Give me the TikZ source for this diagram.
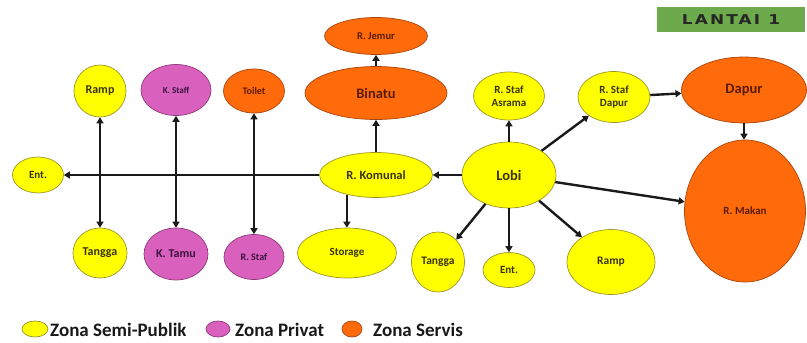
\documentclass[tikz,border=0pt]{standalone}
\usepackage{fontspec}
\setmainfont{Carlito}
\newfontfamily\titlefont[FakeStretch=1.25,LetterSpace=16]{DejaVu Sans Bold}
\usetikzlibrary{shapes.geometric,arrows.meta}

\definecolor{zyellow}{HTML}{FFFF00}
\definecolor{zyellowline}{HTML}{9C9628}
\definecolor{zpink}{HTML}{DA60BE}
\definecolor{zpinkline}{HTML}{8E3A7C}
\definecolor{zorange}{HTML}{FF6A0A}
\definecolor{zorangeline}{HTML}{A8460C}
\definecolor{ytext}{HTML}{3A3208}
\definecolor{ptext}{HTML}{3A1240}
\definecolor{otext}{HTML}{5A1C00}
\definecolor{titlegreen}{HTML}{6DAA4C}
\definecolor{edge}{HTML}{1A1A1A}

\tikzset{
  room/.style={ellipse, draw, line width=0.7pt, inner sep=0pt, align=center,
    font=\bfseries},
  semi/.style={room, fill=zyellow, draw=zyellowline, text=ytext},
  privat/.style={room, fill=zpink, draw=zpinkline, text=ptext},
  servis/.style={room, fill=zorange, draw=zorangeline, text=otext},
  sz/.style 2 args={minimum width=#1pt, minimum height=#2pt},
  arr/.style={draw=edge, line width=2.4pt,
    -{Triangle[length=6pt,width=7pt]}},
  arrboth/.style={draw=edge, line width=2.4pt,
    {Triangle[length=6pt,width=7pt]}-{Triangle[length=6pt,width=7pt]}},
  legdot/.style={ellipse, inner sep=0pt, line width=0.7pt},
  legtxt/.style={anchor=west, inner sep=0pt, font=\fontsize{19}{22}\selectfont\bfseries, text=black!90},
}

\begin{document}
\begin{tikzpicture}[x=1pt,y=1pt]
\useasboundingbox (0,0) rectangle (807,-343);

% floor label
\node[fill=titlegreen, minimum width=148pt, minimum height=25pt, inner sep=0pt,
  font=\titlefont\fontsize{13.5}{15}\selectfont, text=black!85] (title) at (731,-19.5) {LANTAI 1};

% rooms: service zone
\node[servis, sz={103}{37}, font=\fontsize{10.5}{12}\selectfont\bfseries] (RJemur) at (376,-36) {R. Jemur};
\node[servis, sz={142}{53}, font=\fontsize{14.5}{16}\selectfont\bfseries] (Binatu) at (376,-93) {Binatu};
\node[servis, sz={61}{44}, font=\fontsize{10}{12}\selectfont\bfseries] (Toilet) at (254,-91) {Toilet};
\node[servis, sz={125}{66}, font=\fontsize{14.5}{16}\selectfont\bfseries] (Dapur) at (744,-90) {Dapur};
\node[servis, sz={121}{142}, font=\fontsize{11}{13}\selectfont\bfseries] (RMakan) at (745,-211) {R. Makan};

% rooms: private zone
\node[privat, sz={70}{51}, font=\fontsize{9}{11}\selectfont\bfseries] (KStaff) at (176,-90) {K. Staff};
\node[privat, sz={64}{52}, font=\fontsize{12}{14}\selectfont\bfseries] (KTamu) at (176,-254) {K. Tamu};
\node[privat, sz={60}{45}, font=\fontsize{10}{12}\selectfont\bfseries] (RStaf) at (254,-257) {R. Staf};

% rooms: semi-public zone
\node[semi, sz={52}{52}, font=\fontsize{12}{14}\selectfont\bfseries] (RampL) at (100,-91) {Ramp};
\node[semi, sz={51}{36}, font=\fontsize{11}{13}\selectfont\bfseries] (EntL) at (38,-175) {Ent.};
\node[semi, sz={54}{50}, font=\fontsize{12}{14}\selectfont\bfseries] (TanggaL) at (100,-253) {Tangga};
\node[semi, sz={99}{50}, font=\fontsize{11}{13}\selectfont\bfseries] (Storage) at (347,-253) {Storage};
\node[semi, sz={113}{45}, font=\fontsize{12.5}{14}\selectfont\bfseries] (Komunal) at (376,-175) {R. Komunal};
\node[semi, sz={94}{66}, font=\fontsize{14.5}{16}\selectfont\bfseries] (Lobi) at (509,-175) {Lobi};
\node[semi, sz={71}{48}, font=\fontsize{11}{13.5}\selectfont\bfseries] (Asrama) at (509,-96) {R. Staf\\Asrama};
\node[semi, sz={72}{51}, font=\fontsize{11}{13.5}\selectfont\bfseries] (SDapur) at (614,-97) {R. Staf\\Dapur};
\node[semi, sz={53}{60}, font=\fontsize{11.5}{13}\selectfont\bfseries] (TanggaR) at (438,-262) {Tangga};
\node[semi, sz={52}{35}, font=\fontsize{11}{13}\selectfont\bfseries] (EntR) at (509,-270) {Ent.};
\node[semi, sz={88}{65}, font=\fontsize{11.5}{13}\selectfont\bfseries] (RampR) at (611,-262) {Ramp};

% connections
\draw[arr] (Komunal) -- (EntL);
\draw[arrboth] (RampL) -- (TanggaL);
\draw[arrboth] (KStaff) -- (KTamu);
\draw[arrboth] (Toilet) -- (RStaf);
\draw[arr] (Lobi) -- (Komunal);
\draw[arr] (Komunal) -- (Binatu);
\draw[arr] (Binatu) -- (RJemur);
\draw[arr] (Komunal.214) -- (Komunal.214 |- Storage.north);
\draw[arr] (Lobi) -- (Asrama);
\draw[arr] (Lobi) -- (SDapur);
\draw[arr] (SDapur) -- (Dapur);
\draw[arr] (Dapur.south) -- (Dapur.south |- RMakan.north);
\draw[arr] (Lobi) -- (RMakan);
\draw[arr] (Lobi) -- (TanggaR);
\draw[arr] (Lobi) -- (EntR);
\draw[arr] (Lobi) -- (RampR);

% legend
\node[legdot, fill=zyellow, draw=zyellowline, minimum width=26pt, minimum height=16pt] (lg1) at (35,-329) {};
\node[legtxt] (lt1) at (50,-330) {Zona Semi-Publik};
\node[legdot, fill=zpink, draw=zpinkline, minimum width=24pt, minimum height=16pt] (lg2) at (218,-329) {};
\node[legtxt] (lt2) at (235,-330) {Zona Privat};
\node[legdot, fill=zorange, draw=zorangeline, minimum width=20pt, minimum height=16pt] (lg3) at (352,-329) {};
\node[legtxt] (lt3) at (373,-330) {Zona Servis};
\end{tikzpicture}
\end{document}
